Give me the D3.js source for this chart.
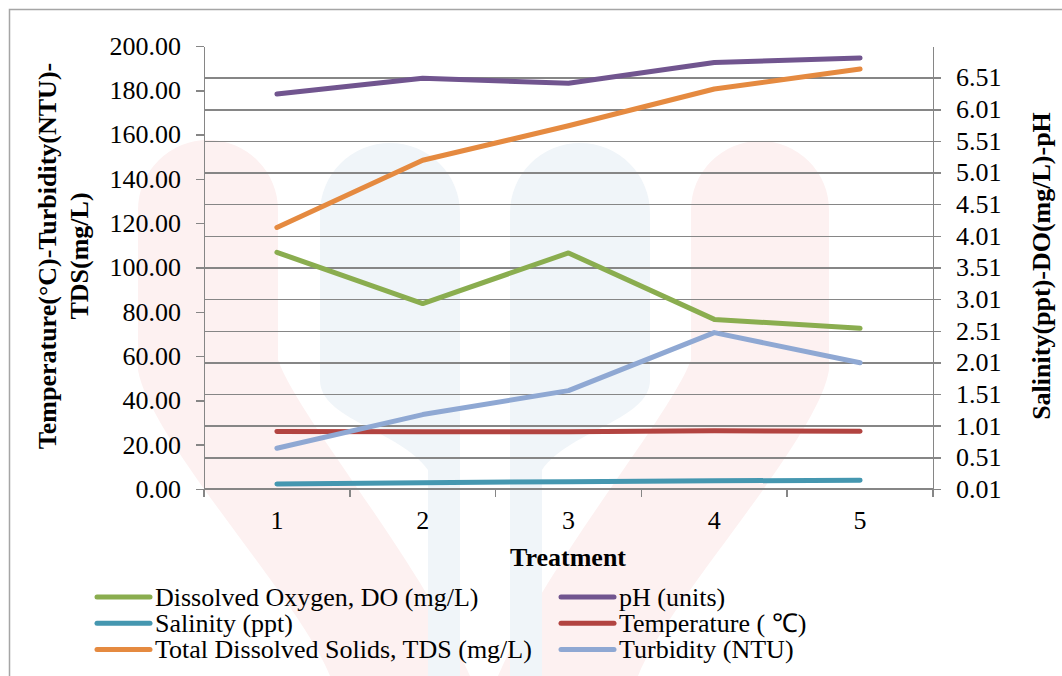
<!DOCTYPE html>
<html lang="en">
<head>
    <meta charset="UTF-8">
    <title>Water quality by treatment</title>
    <script src="https://d3js.org/d3.v7.min.js"></script>
    <style>
        body { margin: 0; background: #fff; }
        .axis path, .axis line { stroke: #868686; stroke-width: 1.5; shape-rendering: crispEdges; }
        .grid line { stroke: #868686; stroke-width: 1.5; shape-rendering: crispEdges; }
        .grid path { display: none; }
    </style>
</head>
<body>
<div id="chart"></div>
<script>
    // data
    const treatments = [1, 2, 3, 4, 5];

    // left axis series
    const temperature = [26.0, 25.9, 25.9, 26.3, 26.1];
    const turbidity = [18.4, 33.6, 44.4, 70.6, 57.0];
    const tds = [118.1, 148.4, 164.0, 180.6, 189.6];

    // right axis series
    const dissolvedOxygen = [3.75, 2.94, 3.74, 2.69, 2.55];
    const ph = [6.25, 6.50, 6.42, 6.75, 6.82];
    const salinity = [0.09, 0.11, 0.125, 0.14, 0.147];

    const leftTicks = [0, 20, 40, 60, 80, 100, 120, 140, 160, 180, 200];
    const rightTicks = [0.01, 0.51, 1.01, 1.51, 2.01, 2.51, 3.01, 3.51, 4.01, 4.51, 5.01, 5.51, 6.01, 6.51];

    const series = [
        { name: "Dissolved Oxygen, DO (mg/L)", values: dissolvedOxygen, axis: "right", color: "#8aad4f" },
        { name: "pH (units)", values: ph, axis: "right", color: "#71558f" },
        { name: "Salinity (ppt)", values: salinity, axis: "right", color: "#4597b0" },
        { name: "Temperature ( \u2103)", values: temperature, axis: "left", color: "#b24441" },
        { name: "Total Dissolved Solids, TDS (mg/L)", values: tds, axis: "left", color: "#e58a40" },
        { name: "Turbidity (NTU)", values: turbidity, axis: "left", color: "#8fa8d3" }
    ];

    const FONT = '"Liberation Serif"';
    const W = 1062, H = 676;
    const plot = { left: 204, right: 933, top: 46, bottom: 489 };

    const svg = d3.select("#chart").append("svg")
        .attr("width", W).attr("height", H)
        .style("font-family", FONT);

    // faint watermark behind the chart
    const wm = svg.append("g");
    const pink = "#fdf1f1", blue = "#f0f5f9";
    wm.append("path").attr("fill", pink)
        .attr("d", "M138,210 A70,70 0 0 1 278,210 L278,360 C300,420 420,560 470,676 L330,676 C300,600 150,440 138,370 Z");
    wm.append("path").attr("fill", pink)
        .attr("d", "M691,210 A69,69 0 0 1 829,210 L829,370 C818,440 668,600 638,676 L498,676 C548,560 668,420 691,360 Z");
    wm.append("path").attr("fill", blue)
        .attr("d", "M320,213 A70,70 0 0 1 460,213 L460,676 L428,676 L428,470 C400,430 320,420 320,380 Z");
    wm.append("path").attr("fill", blue)
        .attr("d", "M510,213 A70,70 0 0 1 650,213 L650,380 C650,420 570,430 542,470 L542,676 L510,676 Z");

    // frame
    svg.append("rect")
        .attr("x", 9.5).attr("y", 9.5)
        .attr("width", W + 20).attr("height", H + 20)
        .attr("fill", "none").attr("stroke", "#a5a5a5").attr("stroke-width", 1.5);

    // scales
    const x = d3.scaleBand().domain(treatments).range([plot.left, plot.right]).padding(0);
    const cx = d => x(d) + x.bandwidth() / 2;
    const yL = d3.scaleLinear().domain([0, 200]).range([plot.bottom, plot.top]);
    const yR = d3.scaleLinear().domain([0.01, 7.01]).range([plot.bottom, plot.top]);

    // gridlines from the right axis (they run through its outer ticks)
    svg.append("g")
        .attr("class", "grid")
        .attr("transform", `translate(${plot.right + 8},0)`)
        .call(d3.axisLeft(yR).tickValues(rightTicks.slice(1)).tickSize(plot.right + 8 - plot.left).tickFormat(""));

    // left axis
    svg.append("g")
        .attr("class", "axis")
        .attr("transform", `translate(${plot.left},0)`)
        .call(d3.axisLeft(yL).tickValues(leftTicks).tickSize(8).tickSizeOuter(0).tickPadding(15).tickFormat(d3.format(".2f")));

    // right axis
    svg.append("g")
        .attr("class", "axis")
        .attr("transform", `translate(${plot.right},0)`)
        .call(d3.axisRight(yR).tickValues(rightTicks).tickSize(8).tickSizeOuter(0).tickPadding(15).tickFormat(d3.format(".2f")));

    // x axis: labels at band centres, tick marks at band edges
    const xAxis = svg.append("g")
        .attr("class", "axis")
        .attr("transform", `translate(0,${plot.bottom})`)
        .call(d3.axisBottom(x).tickSize(0).tickPadding(22));
    xAxis.select(".domain").attr("d", `M${plot.left},0H${plot.right}`);
    xAxis.selectAll(".edge")
        .data(treatments.map(d => x(d)).concat([plot.right]))
        .enter().append("line")
        .attr("x1", d => d).attr("x2", d => d)
        .attr("y1", 0).attr("y2", 8);

    // drop the sans-serif that d3 puts on axis groups
    svg.selectAll(".axis").attr("font-family", null).attr("font-size", null);
    svg.selectAll(".axis text").style("font-size", "26px").attr("fill", "#000");

    // lines
    const lineFor = s => d3.line()
        .x((v, i) => cx(treatments[i]))
        .y(v => (s.axis === "left" ? yL : yR)(v));

    const drawOrder = ["Salinity (ppt)", "Temperature ( \u2103)", "Turbidity (NTU)", "Dissolved Oxygen, DO (mg/L)", "Total Dissolved Solids, TDS (mg/L)", "pH (units)"];
    svg.append("g").selectAll("path")
        .data(drawOrder.map(n => series.find(s => s.name === n)))
        .enter().append("path")
        .attr("fill", "none")
        .attr("stroke", d => d.color)
        .attr("stroke-width", 5)
        .attr("stroke-linecap", "round")
        .attr("stroke-linejoin", "round")
        .attr("d", d => lineFor(d)(d.values));

    // axis titles
    const title = (txt, xPos, yPos, rotate) => svg.append("text")
        .attr("transform", rotate ? "rotate(-90)" : null)
        .attr("x", xPos).attr("y", yPos)
        .attr("dy", rotate ? "0.35em" : null)
        .attr("text-anchor", "middle")
        .style("font-size", "26px")
        .style("font-weight", "bold")
        .text(txt);
    title("Temperature(\u00b0C)-Turbidity(NTU)-", -256, 47, true);
    title("TDS(mg/L)", -256, 79, true);
    title("Salinity(ppt)-DO(mg/L)-pH", -266, 1041, true);
    title("Treatment", 568, 566, false);

    // legend, two columns
    const legend = svg.append("g");
    const item = legend.selectAll("g")
        .data(series)
        .enter().append("g")
        .attr("transform", (d, i) => `translate(${i % 2 === 0 ? 97 : 561},${597 + Math.floor(i / 2) * 26.3})`);
    item.append("line")
        .attr("x1", 0).attr("x2", 53)
        .attr("stroke", d => d.color)
        .attr("stroke-width", 5)
        .attr("stroke-linecap", "round");
    item.append("text")
        .attr("x", 58).attr("dy", "0.33em")
        .style("font-size", "26px")
        .text(d => d.name);

    svg.selectAll("text").style("font-family", FONT);
</script>
</body>
</html>
